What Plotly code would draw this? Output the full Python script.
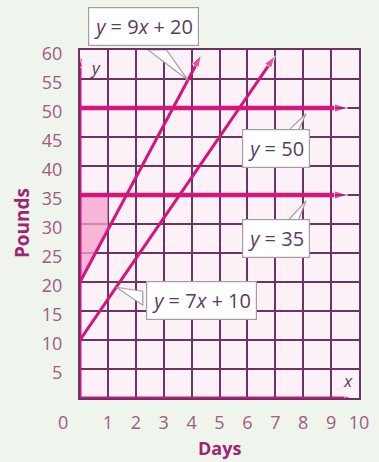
import plotly.graph_objects as go

# Pounds vs. days: two growth lines and two target levels
line_labels = ["y = 9x + 20", "y = 7x + 10"]
slopes = [9, 7]
intercepts = [20, 10]
line_end_days = [4.35, 7.0]

level_values = [50, 35]
level_end_day = 9.6

x_ticks = [1, 2, 3, 4, 5, 6, 7, 8, 9, 10]
y_ticks = [5, 10, 15, 20, 25, 30, 35, 40, 45, 50, 55, 60]

MAGENTA = "#d4157c"
GRID = "#6a3464"
TICK = "#a05a84"
TITLE = "#a02474"
TEXT = "#5b3a63"
BOX_EDGE = "#a69ca6"
FONT = "Open Sans"

fig = go.Figure()

# shaded region between x = 0 and x = 1, above y = 9x + 20 and below y = 35
fig.add_trace(go.Scatter(
    x=[0, 0, 1, 1, 0],
    y=[intercepts[0], level_values[1], level_values[1], slopes[0] * 1 + intercepts[0], intercepts[0]],
    fill="toself", fillcolor="rgba(248,160,205,0.75)", line=dict(width=0),
    mode="lines", hoverinfo="skip", showlegend=False))

# axes drawn as arrows in magenta
fig.add_trace(go.Scatter(x=[0, 0], y=[0, 58.5], mode="lines+markers",
                         line=dict(color=MAGENTA, width=3),
                         marker=dict(symbol="arrow", size=[0, 9], angleref="previous", color=MAGENTA),
                         showlegend=False, hoverinfo="skip"))
fig.add_trace(go.Scatter(x=[0, 9.75], y=[0, 0], mode="lines+markers",
                         line=dict(color=MAGENTA, width=3),
                         marker=dict(symbol="arrow", size=[0, 8], angleref="previous", color=MAGENTA),
                         showlegend=False, hoverinfo="skip"))

# horizontal target levels
for v in level_values:
    fig.add_trace(go.Scatter(x=[0, level_end_day], y=[v, v], mode="lines+markers",
                             line=dict(color=MAGENTA, width=4.5),
                             marker=dict(symbol="arrow", size=[0, 14], angleref="previous", color=MAGENTA),
                             showlegend=False, hoverinfo="skip"))

# sloped lines y = m x + b
for m, b, xe in zip(slopes, intercepts, line_end_days):
    fig.add_trace(go.Scatter(x=[0, xe], y=[b, m * xe + b], mode="lines+markers",
                             line=dict(color=MAGENTA, width=3),
                             marker=dict(symbol="arrow", size=[0, 13], angleref="previous", color=MAGENTA),
                             showlegend=False, hoverinfo="skip"))

# callout boxes with wedge-shaped tails (tails in data units, boxes in paper units)
def px_x(p):
    return (p - 80) / 289.0


def px_y(p):
    return (398 - p) / 348.0


callouts = [
    # text, box centre in pixels, tail base points (data), tail tip (data)
    ("<i>y</i> = 9<i>x</i> + 20", (146, 26), [(2.45, 60.0), (3.1, 60.0)], (3.87, 54.8)),
    ("<i>y</i> = 50", (283, 148), [(7.4, 45.8), (7.8, 45.8)], (8.1, 49.0)),
    ("<i>y</i> = 35", (283, 238), [(7.4, 30.3), (7.8, 30.3)], (8.1, 34.0)),
    ("<i>y</i> = 7<i>x</i> + 10", (206, 300), [(2.25, 18.4), (2.25, 16.0)], (1.3, 19.1)),
]
for text, (bx, by), base, tip in callouts:
    (x1, y1), (x2, y2) = base
    fig.add_shape(type="path",
                  path=f"M {x1} {y1} L {tip[0]} {tip[1]} L {x2} {y2} Z",
                  fillcolor="white", line=dict(color=BOX_EDGE, width=1.2), layer="above")
    fig.add_annotation(xref="paper", yref="paper", x=px_x(bx), y=px_y(by),
                       xanchor="center", yanchor="middle", text=text, showarrow=False,
                       font=dict(family=FONT, size=20, color=TEXT),
                       bgcolor="white", bordercolor=BOX_EDGE, borderwidth=1.2, borderpad=5)

# axis letters
fig.add_annotation(x=0.55, y=56.9, text="<i>y</i>", showarrow=False,
                   font=dict(family=FONT, size=17, color=TEXT))
fig.add_annotation(x=9.62, y=3.1, text="<i>x</i>", showarrow=False,
                   font=dict(family=FONT, size=17, color=TEXT))

# shared origin label
fig.add_annotation(xref="paper", yref="paper", x=px_x(62), y=px_y(422), text="0",
                   xanchor="center", yanchor="middle", showarrow=False,
                   font=dict(family=FONT, size=18, color=TICK))

# axis titles
fig.add_annotation(xref="paper", yref="paper", x=px_x(224), y=px_y(448), text="<b>Days</b>",
                   xanchor="center", yanchor="middle", showarrow=False,
                   font=dict(family=FONT, size=18, color=TITLE))
fig.add_annotation(xref="paper", yref="paper", x=px_x(20), y=px_y(223), text="<b>Pounds</b>",
                   xanchor="center", yanchor="middle", textangle=-90, showarrow=False,
                   font=dict(family=FONT, size=19, color=TITLE))

fig.update_xaxes(range=[0, 10], tickvals=x_ticks, ticktext=[str(t) for t in x_ticks],
                 showgrid=True, gridcolor=GRID, gridwidth=2,
                 showline=True, linecolor=GRID, linewidth=2, mirror=True,
                 zeroline=False, ticks="", ticklabelstandoff=7,
                 tickfont=dict(family=FONT, size=18, color=TICK), fixedrange=True)
fig.update_yaxes(range=[0, 60], tickvals=y_ticks, ticktext=[str(t) for t in y_ticks],
                 showgrid=True, gridcolor=GRID, gridwidth=2,
                 showline=True, linecolor=GRID, linewidth=2, mirror=True,
                 zeroline=False, ticks="", ticklabelstandoff=12, ticklabelshift=4,
                 tickfont=dict(family=FONT, size=18, color=TICK), fixedrange=True)

fig.update_layout(width=379, height=462,
                  margin=dict(l=80, r=10, t=50, b=64),
                  paper_bgcolor="#eff5ec", plot_bgcolor="#fcf1f6",
                  showlegend=False)

fig.write_html("out.html", config={"displayModeBar": False})
